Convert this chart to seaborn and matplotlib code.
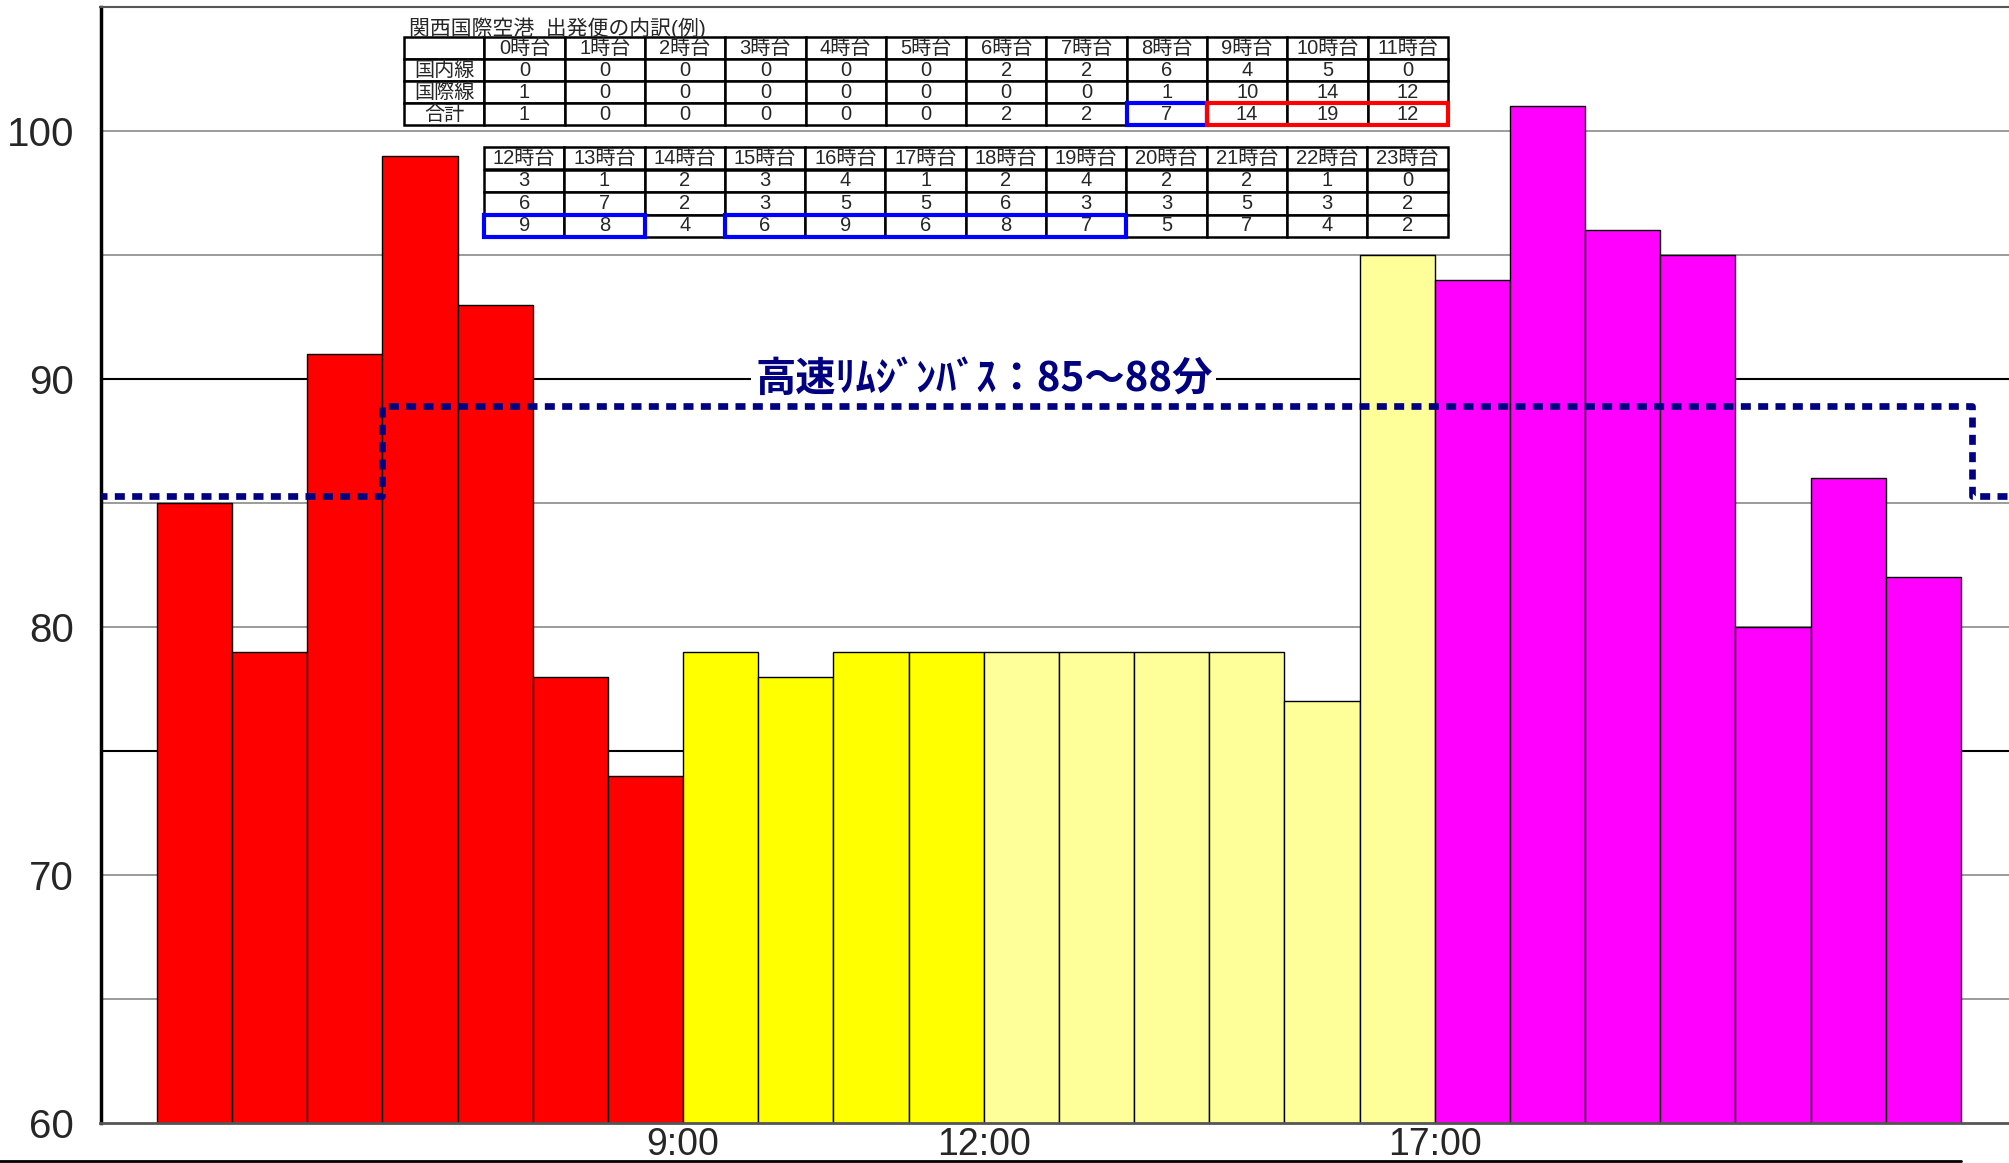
import matplotlib.pyplot as plt
import matplotlib.transforms as mtransforms
from matplotlib.patches import Rectangle
import seaborn as sns
import pandas as pd

# travel time per slot (minutes)
slots = list(range(24))
minutes = [85, 79, 91, 99, 93, 78, 74,
           79, 78, 79, 79,
           79, 79, 79, 79, 77, 95,
           94, 101, 96, 95, 80, 86, 82]
period = ['am_peak'] * 7 + ['day'] * 4 + ['day_late'] * 6 + ['pm_peak'] * 7
period_colors = {'am_peak': '#FF0000', 'day': '#FFFF00',
                 'day_late': '#FFFF99', 'pm_peak': '#FF00FF'}

tick_pos = [6.5, 10.5, 16.5]
tick_labels = ['9:00', '12:00', '17:00']
y_ticks = [60, 70, 80, 90, 100]
grid_levels = [65, 70, 75, 80, 85, 90, 95, 100]

# limousine bus (step line)
bus_x = [-1.3, 2.5, 23.65, 24.2]
bus_y = [85.3, 88.9, 85.3, 85.3]
bus_label = '高速ﾘﾑｼﾞﾝﾊﾞｽ：85～88分'
bus_label_x = 10.5
bus_label_y = 90

# departures table
table_title = '関西国際空港  出発便の内訳(例)'
row_names = ['国内線', '国際線', '合計']
hours_am = ['0時台', '1時台', '2時台', '3時台', '4時台', '5時台',
            '6時台', '7時台', '8時台', '9時台', '10時台', '11時台']
hours_pm = ['12時台', '13時台', '14時台', '15時台', '16時台', '17時台',
            '18時台', '19時台', '20時台', '21時台', '22時台', '23時台']
domestic = [0, 0, 0, 0, 0, 0, 2, 2, 6, 4, 5, 0,
            3, 1, 2, 3, 4, 1, 2, 4, 2, 2, 1, 0]
international = [1, 0, 0, 0, 0, 0, 0, 0, 1, 10, 14, 12,
                 6, 7, 2, 3, 5, 5, 6, 3, 3, 5, 3, 2]
total = [1, 0, 0, 0, 0, 0, 2, 2, 7, 14, 19, 12,
         9, 8, 4, 6, 9, 6, 8, 7, 5, 7, 4, 2]
# (table, first col, last col, colour) boxes on the total row
highlights = [(0, 9, 9, '#0000FF'), (0, 10, 12, '#FF0000'),
              (1, 0, 1, '#0000FF'), (1, 3, 7, '#0000FF')]

sns.set_style('white')
plt.rcParams['font.family'] = ['Liberation Sans', 'Noto Sans CJK JP', 'DejaVu Sans']

W, H = 2009, 1163
AX_L, AX_T, AX_B = 100.5, 7, 1123
fig = plt.figure(figsize=(W / 100, H / 100), dpi=100)
ax = fig.add_axes([AX_L / W, 1 - AX_B / H, 1 - AX_L / W, (AX_B - AX_T) / H])


def to_ax(xp, yp):
    return (xp - AX_L) / (W - AX_L), (AX_B - yp) / (AX_B - AX_T)


df = pd.DataFrame({'slot': slots, 'minutes': minutes, 'period': period})
sns.barplot(data=df, x='slot', y='minutes', hue='period', palette=period_colors,
            dodge=False, width=1.0, saturation=1, edgecolor='black',
            linewidth=1.0, legend=False, ax=ax, zorder=2)

for lv in grid_levels:
    dark = lv in (90, 75)
    ax.axhline(lv, color='black' if dark else '#8a8a8a',
               lw=1.5 if dark else 1.2, zorder=0)

ax.plot(bus_x, bus_y, drawstyle='steps-post', color='#000080', lw=4.8,
        linestyle=(0, (1.5, 1.1)), dash_capstyle='butt', zorder=6)
ax.text(bus_label_x, bus_label_y, bus_label, ha='center', va='center',
        fontsize=29, color='#000080', weight='bold',
        family=['Noto Sans CJK JP', 'DejaVu Sans'],
        bbox=dict(facecolor='white', edgecolor='none', pad=3), zorder=5)

ax.set_xlim(-1.25, 24.14)
ax.set_ylim(60, 105)
ax.set_yticks(y_ticks)
ax.set_yticklabels([str(v) for v in y_ticks])
ax.set_xticks(tick_pos)
ax.set_xticklabels(tick_labels)
ax.tick_params(axis='y', length=0, pad=19, labelsize=29)
ax.tick_params(axis='x', length=0, pad=3, labelsize=27)
ax.set_xlabel('')
ax.set_ylabel('')

for side in ['left', 'bottom', 'top', 'right']:
    ax.spines[side].set_visible(True)
ax.spines['left'].set_color('black')
ax.spines['left'].set_linewidth(2.5)
ax.spines['bottom'].set_color('#555555')
ax.spines['bottom'].set_linewidth(2.0)
ax.spines['top'].set_color('#555555')
ax.spines['top'].set_linewidth(1.5)
ax.spines['right'].set_visible(False)

# bottom border line under the time labels
blend = mtransforms.blended_transform_factory(ax.transData, fig.transFigure)
ax.plot([-5, 23.5], [0.0017, 0.0017], color='black', lw=2,
        transform=blend, clip_on=False, zorder=6)

# tables
ax.text(*to_ax(409, 28), table_title, transform=ax.transAxes, ha='left',
        va='center', fontsize=15, zorder=8)

tables = [
    dict(left=404, top=37, bottom=125, ncol=13,
         cells=[[''] + hours_am,
                [row_names[0]] + [str(v) for v in domestic[:12]],
                [row_names[1]] + [str(v) for v in international[:12]],
                [row_names[2]] + [str(v) for v in total[:12]]]),
    dict(left=484, top=147, bottom=237, ncol=12,
         cells=[hours_pm,
                [str(v) for v in domestic[12:]],
                [str(v) for v in international[12:]],
                [str(v) for v in total[12:]]]),
]
COL_W = 80.3
boxes = []
for t in tables:
    x0, y1 = to_ax(t['left'], t['top'])
    x1, y0 = to_ax(t['left'] + COL_W * t['ncol'], t['bottom'])
    tab = ax.table(cellText=t['cells'], cellLoc='center',
                   bbox=[x0, y0, x1 - x0, y1 - y0], zorder=7)
    tab.auto_set_font_size(False)
    tab.set_fontsize(14.5)
    for cell in tab.get_celld().values():
        cell.set_linewidth(1.8)
        cell.set_edgecolor('black')
        cell.set_facecolor('white')
        cell.get_text().set_fontfamily(['Liberation Sans', 'Noto Sans CJK JP'])
    boxes.append((x0, y0, (x1 - x0) / t['ncol'], (y1 - y0) / 4))

for ti, c0, c1, col in highlights:
    x0, y0, cw, rh = boxes[ti]
    ax.add_patch(Rectangle((x0 + c0 * cw, y0), (c1 - c0 + 1) * cw, rh,
                           transform=ax.transAxes, fill=False, edgecolor=col,
                           lw=3, zorder=9, clip_on=False))

fig.savefig('out.png', dpi=100)
